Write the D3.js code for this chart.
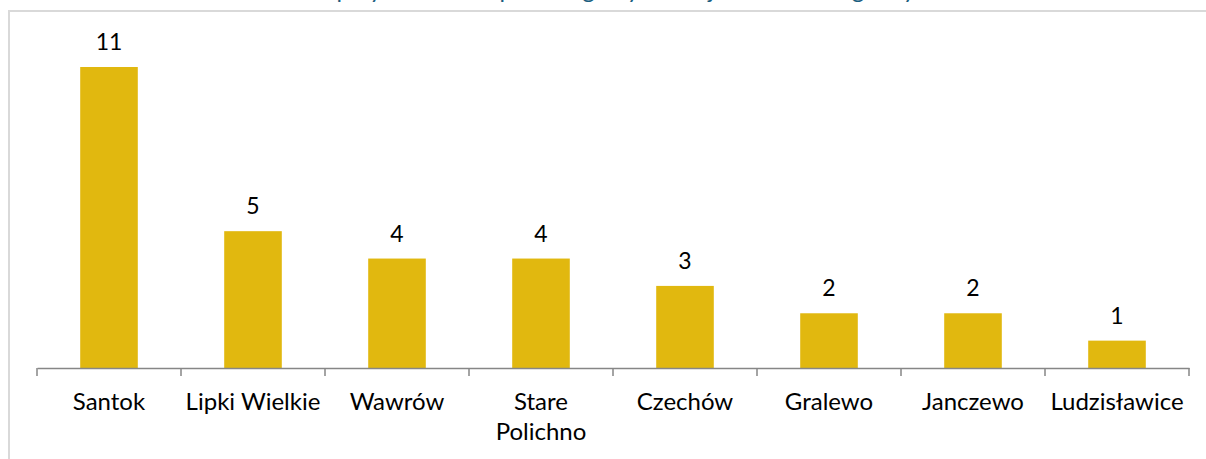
<!DOCTYPE html>
<html><head><meta charset="utf-8">
<script src="https://cdn.jsdelivr.net/npm/d3@7"></script>
<style>
html,body{margin:0;padding:0;background:#fff;}
svg{display:block;}
text{font-family:Lato,"Open Sans",sans-serif;}
</style></head>
<body>
<svg id="chart" width="1206" height="459"></svg>
<script>
const categories = ["Santok", "Lipki Wielkie", "Wawrów", "Stare Polichno", "Czechów", "Gralewo", "Janczewo", "Ludzisławice"];
const values = [11, 5, 4, 4, 3, 2, 2, 1];
const titleText = "Liczba przystanków w poszczególnych miejscowościach gminy";

const svg = d3.select("#chart");
const W = 1206, H = 459;

// chart frame (partly cut)
svg.append("path")
  .attr("d", `M9,${H} L9,11 L${W},11`)
  .attr("fill","none").attr("stroke","#d9d9d9").attr("stroke-width",2);

// title (cut off at the top, as in the reference)
svg.append("text")
  .attr("x", 590).attr("y", -2.5)
  .attr("text-anchor","middle")
  .attr("font-size", 24)
  .attr("fill","#1a5e80")
  .text(titleText);

const x = d3.scaleBand().domain(categories).range([37, 1189]).paddingInner(0.6).paddingOuter(0.3);
const xb = d3.scaleBand().domain(categories).range([37, 1189]);
const y = d3.scaleLinear().domain([0, 11]).range([368, 67]);

svg.selectAll("rect.bar").data(values).join("rect")
  .attr("class","bar")
  .attr("x",(d,i)=>xb(categories[i]) + xb.bandwidth()/2 - x.bandwidth()/2)
  .attr("width", x.bandwidth())
  .attr("y", d=>y(d))
  .attr("height", d=>y(0)-y(d))
  .attr("fill","#e1b80f");

// axis
const axis = d3.axisBottom(xb).tickSize(0).tickFormat("");
const g = svg.append("g").attr("transform",`translate(0,${y(0)})`).call(axis);
g.select(".domain").attr("stroke","#868686").attr("stroke-width",1.5);
const bounds = categories.map(c=>xb(c)).concat([xb.range()[1]]);
g.selectAll("line.tk").data(bounds).join("line")
  .attr("class","tk")
  .attr("x1",d=>d).attr("x2",d=>d).attr("y1",0).attr("y2",8)
  .attr("stroke","#868686").attr("stroke-width",1.5);

// category labels
const labelLines = {"Stare Polichno":["Stare","Polichno"]};
categories.forEach(c=>{
  const lines = labelLines[c] || [c];
  const t = svg.append("text")
    .attr("x", xb(c)+xb.bandwidth()/2)
    .attr("y", 410)
    .attr("text-anchor","middle")
    .attr("font-size",24)
    .attr("fill","#000");
  lines.forEach((l,k)=>{
    t.append("tspan").attr("x", xb(c)+xb.bandwidth()/2).attr("dy", k===0?0:30).text(l);
  });
});

// value labels
svg.selectAll("text.val").data(values).join("text")
  .attr("class","val")
  .attr("x",(d,i)=>xb(categories[i])+xb.bandwidth()/2)
  .attr("y", d=>y(d)-17)
  .attr("text-anchor","middle")
  .attr("font-size",23)
  .attr("fill","#000")
  .text(d=>d);
</script>
</body></html>
